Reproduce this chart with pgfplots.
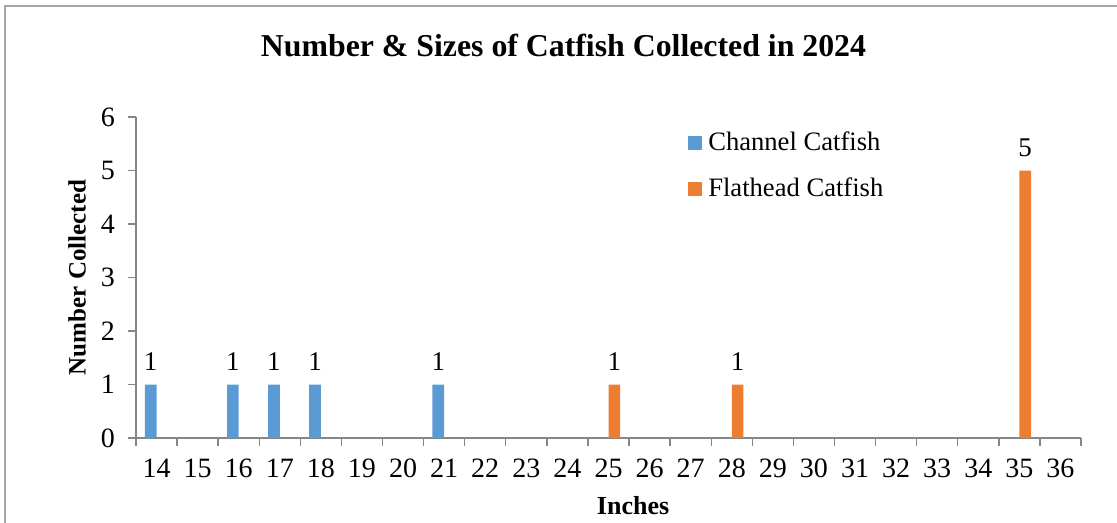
\documentclass[border=0pt]{standalone}
\usepackage{fontspec}
\setmainfont{Liberation Serif}
\usepackage{pgfplots}
\pgfplotsset{compat=1.18}
\definecolor{chblue}{HTML}{5B9BD5}
\definecolor{florange}{HTML}{ED7D31}
\definecolor{axgray}{RGB}{134,134,134}
\definecolor{framegray}{RGB}{166,166,166}
\begin{document}
\begin{tikzpicture}
\path[use as bounding box] (0pt,0pt) rectangle (558.5pt,-261.5pt);
\draw[framegray, line width=0.9pt] (2.5pt,-261.5pt) -- (2.5pt,-3pt) -- (558.5pt,-3pt);
\node[font=\fontsize{15.9}{19}\selectfont\bfseries] at (281.75pt,-23pt) {Number \& Sizes of Catfish Collected in 2024};
\begin{axis}[
  scale only axis,
  width=472.5pt, height=160.5pt,
  at={(68pt,-219pt)}, anchor=south west,
  xmin=-0.5, xmax=22.5, ymin=0, ymax=6,
  enlargelimits=false,
  axis x line*=bottom, axis y line*=left,
  axis line style={axgray, line width=0.7pt, -},
  tick style={axgray, line width=0.7pt},
  tick align=outside,
  major tick length=4pt, minor tick length=4pt,
  xtick={0,...,22},
  xticklabels={14,15,16,17,18,19,20,21,22,23,24,25,26,27,28,29,30,31,32,33,34,35,36},
  minor xtick={-0.5,0.5,...,22.5},
  major x tick style={draw=none},
  ytick={0,...,6},
  xticklabel style={font=\fontsize{14}{16}\selectfont, anchor=center, yshift=-11pt},
  yticklabel style={font=\fontsize{14}{16}\selectfont, anchor=center, xshift=-10pt},
  /pgf/number format/assume math mode=true,
  xlabel={Inches},
  xlabel style={font=\fontsize{13}{15}\selectfont\bfseries, at={(axis description cs:0.526,-0.212)}, anchor=center},
  ylabel={Number Collected},
  ylabel style={font=\fontsize{12.5}{15}\selectfont\bfseries, at={(axis description cs:-0.0624,0.5)}, anchor=center, rotate=0},
  ybar=0pt, bar width=5.85pt,
  nodes near coords,
  every node near coord/.append style={font=\fontsize{13.5}{16}\selectfont, black, yshift=3.5pt},
  legend style={draw=none, fill=none, at={(axis description cs:0.584,0.967)}, anchor=north west,
    font=\fontsize{13.3}{15}\selectfont, row sep=8pt, inner sep=0pt, column sep=1pt},
  legend cell align=left,
  legend image code/.code={\path[#1, draw=none] (0pt,-3.5pt) rectangle (7pt,3.5pt);},
]
\addplot[fill=chblue, draw=none] coordinates {(0,1) (2,1) (3,1) (4,1) (7,1)};
\addplot[fill=florange, draw=none] coordinates {(11,1) (14,1) (21,5)};
\legend{Channel Catfish, Flathead Catfish}
\end{axis}
\end{tikzpicture}
\end{document}
